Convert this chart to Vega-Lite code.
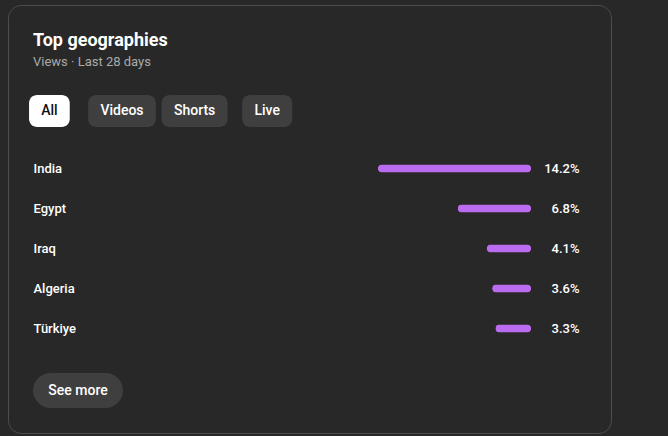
{
  "$schema": "https://vega.github.io/schema/vega-lite/v6.json",
  "width": 603,
  "height": 428,
  "autosize": {"type": "none"},
  "padding": {"left": 8, "top": 5, "right": 57, "bottom": 3},
  "background": "#282828",
  "title": {
    "text": "Top geographies",
    "subtitle": "Views · Last 28 days",
    "anchor": "start",
    "frame": "group",
    "orient": "top",
    "dx": 25,
    "offset": -64,
    "font": "Roboto",
    "fontSize": 18,
    "fontWeight": "bold",
    "color": "#ffffff",
    "subtitleFont": "Roboto",
    "subtitleFontSize": 13,
    "subtitleColor": "#aaaaaa",
    "subtitlePadding": 6
  },
  "config": {
    "font": "Roboto",
    "view": {"stroke": "#4d4d4d", "cornerRadius": 13, "fill": "#282828"},
    "axis": {"domain": false, "ticks": false, "grid": false, "title": null,
      "labelFont": "Roboto", "labelFontSize": 13, "labelFontWeight": 500, "labelColor": "#ffffff", "labelPadding": 0}
  },
  "datasets": {
    "geo": [
      {"country": "India", "share": 14.2, "label": "14.2%"},
      {"country": "Egypt", "share": 6.8, "label": "6.8%"},
      {"country": "Iraq", "share": 4.1, "label": "4.1%"},
      {"country": "Algeria", "share": 3.6, "label": "3.6%"},
      {"country": "Türkiye", "share": 3.3, "label": "3.3%"}
    ],
    "filters": [
      {"filter": "All"},
      {"filter": "Videos"},
      {"filter": "Shorts"},
      {"filter": "Live"}
    ],
    "more": [{"action": "See more"}]
  },
  "layer": [
    {
      "data": {"name": "geo"},
      "mark": {"type": "bar", "size": 8, "cornerRadius": 4, "color": "#bb6bf0"},
      "encoding": {
        "y": {"field": "country", "type": "nominal", "sort": null,
          "scale": {"type": "band", "range": [143.5, 343.5], "paddingInner": 0, "paddingOuter": 0},
          "axis": {"orient": "left", "offset": -25, "labelAlign": "left", "labelBaseline": "middle"}},
        "x": {"field": "share", "type": "quantitative",
          "scale": {"domain": [0, 14.2], "range": [523, 370], "nice": false, "zero": true}, "axis": null}
      }
    },
    {
      "data": {"name": "geo"},
      "mark": {"type": "bar", "size": 8, "cornerRadius": 4, "color": "#bb6bf0"},
      "encoding": {
        "y": {"field": "label", "type": "nominal", "sort": null,
          "scale": {"type": "band", "range": [143.5, 343.5], "paddingInner": 0, "paddingOuter": 0},
          "axis": {"orient": "right", "offset": -32, "labelAlign": "right", "labelBaseline": "middle"}},
        "x": {"field": "share", "type": "quantitative",
          "scale": {"domain": [0, 14.2], "range": [523, 370], "nice": false, "zero": true}, "axis": null}
      }
    },
    {
      "data": {"name": "filters"},
      "encoding": {
        "x": {"field": "filter", "type": "nominal", "sort": null,
          "scale": {"type": "point", "range": [41.4, 259.2], "padding": 0}, "axis": null}
      },
      "layer": [
        {
          "mark": {"type": "bar", "cornerRadius": 8},
          "encoding": {
            "y": {"datum": 1, "type": "quantitative", "scale": {"domain": [0, 1], "range": [122, 90], "nice": false}, "axis": null},
            "y2": {"datum": 0},
            "size": {"condition": [
              {"test": "datum.filter === 'All'", "value": 40.7},
              {"test": "datum.filter === 'Videos'", "value": 67.7},
              {"test": "datum.filter === 'Shorts'", "value": 66}
            ], "value": 50},
            "color": {"condition": {"test": "datum.filter === 'All'", "value": "#ffffff"}, "value": "#3f3f3f"}
          }
        },
        {
          "mark": {"type": "text", "font": "Roboto", "fontSize": 14, "fontWeight": 500, "baseline": "middle", "align": "center"},
          "encoding": {
            "y": {"datum": 0.5, "type": "quantitative", "scale": {"domain": [0, 1], "range": [122, 90], "nice": false}, "axis": null},
            "text": {"field": "filter"},
            "color": {"condition": {"test": "datum.filter === 'All'", "value": "#0f0f0f"}, "value": "#ffffff"}
          }
        }
      ]
    },
    {
      "data": {"name": "more"},
      "encoding": {
        "x": {"field": "action", "type": "nominal",
          "scale": {"type": "band", "range": [25, 115], "paddingInner": 0, "paddingOuter": 0}, "axis": null},
        "y": {"field": "action", "type": "nominal",
          "scale": {"type": "band", "range": [368, 403], "paddingInner": 0, "paddingOuter": 0}, "axis": null}
      },
      "layer": [
        {"mark": {"type": "rect", "cornerRadius": 17.5, "color": "#3f3f3f"}},
        {
          "mark": {"type": "text", "font": "Roboto", "fontSize": 14, "fontWeight": 500, "baseline": "middle", "align": "center", "color": "#ffffff"},
          "encoding": {"text": {"field": "action"}}
        }
      ]
    }
  ],
  "resolve": {"scale": {"x": "independent", "y": "independent", "color": "independent", "size": "independent"}}
}
